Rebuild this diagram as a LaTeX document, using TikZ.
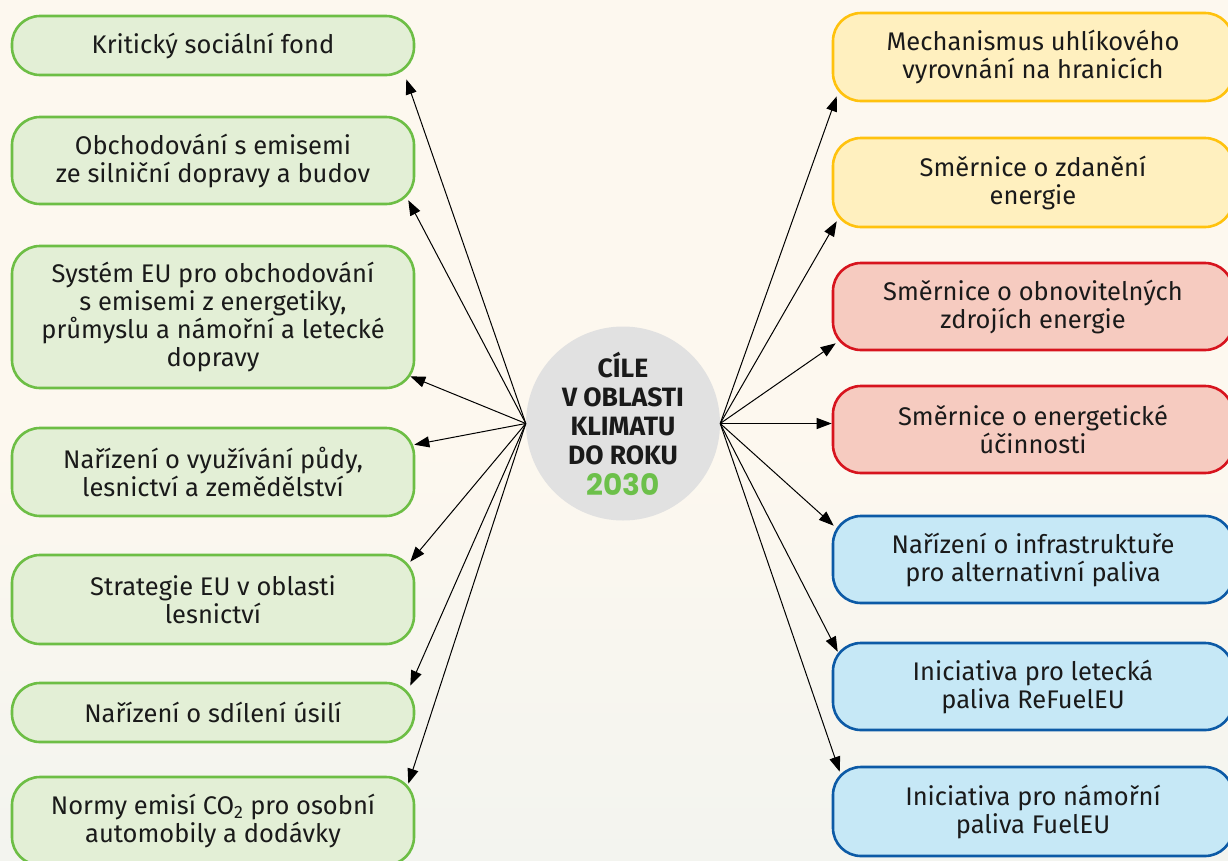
\documentclass[tikz,border=0pt]{standalone}
\usepackage{fontspec}
\setmainfont{Fira Sans}
\newfontfamily\numfont{Poppins}
\usetikzlibrary{arrows.meta}
\definecolor{bgcream}{HTML}{FDF8EF}
\definecolor{bglow}{HTML}{F3F4EF}
\definecolor{gfill}{HTML}{E3EFD6}
\definecolor{gline}{HTML}{6DBE45}
\definecolor{yfill}{HTML}{FFF0BF}
\definecolor{yline}{HTML}{FFC20E}
\definecolor{rfill}{HTML}{F6CBC0}
\definecolor{rline}{HTML}{D7141E}
\definecolor{bfill}{HTML}{C6E8F6}
\definecolor{bline}{HTML}{0C5AA6}
\definecolor{cfill}{HTML}{E1E1E1}
\definecolor{txt}{HTML}{1A1A1A}
\definecolor{yeargreen}{HTML}{6CC04A}
\tikzset{
  box/.style={rectangle, rounded corners=28pt, line width=2.6pt, inner sep=0pt,
    align=center, text=txt, font=\fontsize{25.5}{28}\selectfont},
  lbox/.style={box, draw=gline, fill=gfill, minimum width=402pt},
  ybox/.style={box, draw=yline, fill=yfill, minimum width=400pt},
  rbox/.style={box, draw=rline, fill=rfill, minimum width=400pt},
  bbox/.style={box, draw=bline, fill=bfill, minimum width=400pt},
  arr/.style={line width=1pt, draw=black, -{Triangle[length=15pt,width=11pt]}},
}
\begin{document}
\begin{tikzpicture}[x=1pt,y=-1pt]
\useasboundingbox (0,0) rectangle (1228,860);
\clip (0,0) rectangle (1228,860);
\fill[bgcream] (0,0) rectangle (1228,860);
\shade[top color=bgcream, bottom color=bglow] (0,440) rectangle (1228,860);

% centre
\node[circle, fill=cfill, minimum size=194pt, inner sep=0pt, align=center, text=txt,
  font=\bfseries\fontsize{26.5}{29}\selectfont] (C) at (623,423.5)
  {CÍLE\\V OBLASTI\\KLIMATU\\DO ROKU\\[2pt]{\numfont\bfseries\fontsize{29.5}{31}\selectfont\color{yeargreen}2030}};

% left column
\node[lbox, minimum height=59pt] (L1) at (213,45.5) {Kritický sociální fond};
\node[lbox, minimum height=87pt] (L2) at (213,160.5) {Obchodování s emisemi\\ze silniční dopravy a budov};
\node[lbox, minimum height=142pt] (L3) at (213,317) {Systém EU pro obchodování\\s emisemi z energetiky,\\průmyslu a námořní a letecké\\dopravy};
\node[lbox, minimum height=88pt] (L4) at (213,472) {Nařízení o využívání půdy,\\lesnictví a zemědělství};
\node[lbox, minimum height=89pt] (L5) at (213,599.5) {Strategie EU v oblasti\\lesnictví};
\node[lbox, minimum height=59pt] (L6) at (213,712.5) {Nařízení o sdílení úsilí};
\node[lbox, minimum height=88pt] (L7) at (213,821) {Normy emisí CO\textsubscript{2} pro osobní\\automobily a dodávky};

% right column
\node[ybox, minimum height=88pt] (R1) at (1033,57) {Mechanismus uhlíkového\\vyrovnání na hranicích};
\node[ybox, minimum height=89pt] (R2) at (1033,182.5) {Směrnice o zdanění\\energie};
\node[rbox, minimum height=87pt] (R3) at (1033,306.5) {Směrnice o obnovitelných\\zdrojích energie};
\node[rbox, minimum height=87pt] (R4) at (1033,429.5) {Směrnice o energetické\\účinnosti};
\node[bbox, minimum height=87pt] (R5) at (1033,559.5) {Nařízení o infrastruktuře\\pro alternativní paliva};
\node[bbox, minimum height=87pt] (R6) at (1033,686.5) {Iniciativa pro letecká\\paliva ReFuelEU};
\node[bbox, minimum height=89pt] (R7) at (1033,811.5) {Iniciativa pro námořní\\paliva FuelEU};

% connectors left
\draw[arr] (C.west) -- ([xshift=-9pt,yshift=-3pt]L1.south east);
\draw[arr] (C.west) -- ([xshift=-7pt,yshift=5pt]L2.south east);
\draw[arr] (C.west) -- ([xshift=-5pt,yshift=13pt]L3.south east);
\draw[arr] (C.west) -- ([xshift=-1pt,yshift=-18pt]L4.north east);
\draw[arr] (C.west) -- ([xshift=-5pt,yshift=-8pt]L5.north east);
\draw[arr] (C.west) -- ([xshift=-5pt,yshift=-4pt]L6.north east);
\draw[arr] (C.west) -- ([xshift=-7pt,yshift=-8pt]L7.north east);

% connectors right
\draw[arr] (C.east) -- ([xshift=5pt,yshift=6pt]R1.south west);
\draw[arr] (C.east) -- ([xshift=5pt,yshift=7pt]R2.south west);
\draw[arr] (C.east) -- ([xshift=4pt,yshift=8pt]R3.south west);
\draw[arr] (C.east) -- (C.east -| R4.west);
\draw[arr] (C.east) -- ([xshift=2pt,yshift=-11pt]R5.north west);
\draw[arr] (C.east) -- ([xshift=6pt,yshift=-10pt]R6.north west);
\draw[arr] (C.east) -- ([xshift=8pt,yshift=-6pt]R7.north west);
\end{tikzpicture}
\end{document}
